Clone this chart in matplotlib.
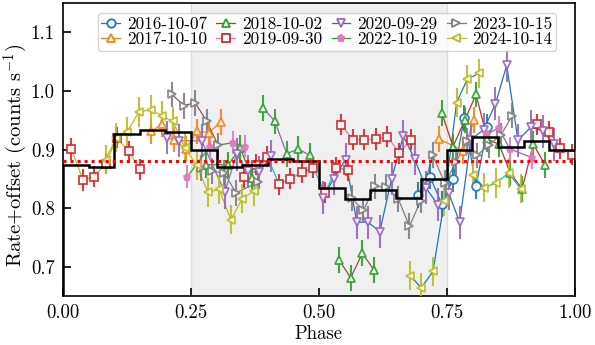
import numpy as np
import matplotlib
matplotlib.use("Agg")
import matplotlib.pyplot as plt
from matplotlib.lines import Line2D

plt.rcParams['font.family'] = 'serif'
plt.rcParams['font.serif'] = ['cmr10', 'DejaVu Serif']
plt.rcParams['mathtext.fontset'] = 'cm'
plt.rcParams['axes.unicode_minus'] = False
plt.rcParams['axes.formatter.use_mathtext'] = True
plt.rcParams['font.size'] = 13.5

# --- data (phase / rate+offset per observation, split into connected runs) ---
labels = ['2016-10-07', '2017-10-10', '2018-10-02', '2019-09-30',
          '2020-09-29', '2022-10-19', '2023-10-15', '2024-10-14']

phase_2016 = [[0.694, 0.717, 0.740, 0.762, 0.784, 0.807, 0.829]]
rate_2016 = [[0.823, 0.854, 0.807, 0.849, 0.954, 0.837, 0.938]]

phase_2017 = [[0.172, 0.194, 0.216, 0.240, 0.262, 0.285, 0.308],
              [0.735, 0.782, 0.803]]
rate_2017 = [[0.931, 0.944, 0.917, 0.901, 0.931, 0.929, 0.947],
             [0.918, 0.898, 0.950]]

phase_2018 = [[0.279, 0.323, 0.346, 0.369],
              [0.391, 0.414, 0.437, 0.460, 0.482],
              [0.540, 0.562, 0.585, 0.607],
              [0.740, 0.762, 0.785, 0.807, 0.829, 0.852, 0.874, 0.897, 0.919, 0.942]]
rate_2018 = [[0.874, 0.874, 0.903, 0.852],
             [0.971, 0.948, 0.893, 0.901, 0.890],
             [0.711, 0.681, 0.723, 0.695],
             [0.963, 0.905, 0.950, 0.994, 0.918, 0.909, 0.860, 0.833, 0.909, 0.874]]

phase_2019 = [[0.016, 0.039, 0.061, 0.083, 0.105, 0.128, 0.151],
              [0.354, 0.377, 0.399, 0.422, 0.444, 0.467, 0.489, 0.512, 0.534, 0.557],
              [0.544, 0.566, 0.588, 0.611, 0.634, 0.657, 0.679],
              [0.927, 0.950, 0.972, 0.995]]
rate_2019 = [[0.901, 0.848, 0.854, 0.876, 0.920, 0.897, 0.866],
             [0.853, 0.874, 0.888, 0.841, 0.850, 0.861, 0.869, 0.826, 0.869, 0.865],
             [0.942, 0.917, 0.917, 0.918, 0.922, 0.894, 0.917],
             [0.943, 0.930, 0.902, 0.891]]

phase_2020 = [[0.203, 0.226, 0.271, 0.316, 0.339, 0.361, 0.383, 0.406],
              [0.507, 0.529, 0.552, 0.574, 0.596, 0.619, 0.642, 0.665, 0.687, 0.709,
               0.732, 0.754, 0.775, 0.797, 0.822, 0.845, 0.867, 0.889, 0.915, 0.938, 0.960]]
rate_2020 = [[0.920, 0.915, 0.915, 0.827, 0.892, 0.863, 0.861, 0.889],
             [0.818, 0.850, 0.883, 0.776, 0.776, 0.760, 0.850, 0.923, 0.884, 0.835,
              0.806, 0.825, 0.776, 0.917, 0.934, 0.978, 1.044, 0.916, 0.939, 0.931, 0.909]]

phase_2022 = [[0.243, 0.287, 0.333, 0.355],
              [0.829, 0.851, 0.873, 0.917]]
rate_2022 = [[0.854, 0.905, 0.912, 0.905],
             [0.926, 0.937, 0.901, 0.886]]

phase_2023 = [[0.213, 0.236, 0.258, 0.281, 0.303],
              [0.270, 0.292, 0.315, 0.338, 0.381],
              [0.564, 0.587, 0.609, 0.632, 0.655, 0.677, 0.699, 0.722, 0.746,
               0.768, 0.789, 0.809, 0.832, 0.855, 0.878]]
rate_2023 = [[0.994, 0.975, 0.980, 0.948, 0.907],
             [0.869, 0.863, 0.860, 0.826, 0.844],
             [0.817, 0.796, 0.837, 0.836, 0.816, 0.769, 0.813, 0.891, 0.843,
              0.878, 0.914, 0.890, 0.908, 0.924, 0.958]]

phase_2024 = [[0.083, 0.104, 0.125, 0.148, 0.171, 0.193, 0.215, 0.238, 0.261,
               0.283, 0.305, 0.328, 0.350, 0.373],
              [0.678, 0.700, 0.723, 0.745, 0.769, 0.790, 0.812],
              [0.801, 0.823, 0.846, 0.871, 0.894]]
rate_2024 = [[0.883, 0.920, 0.930, 0.964, 0.968, 0.958, 0.948, 0.903, 0.873,
              0.827, 0.832, 0.780, 0.816, 0.829],
             [0.685, 0.664, 0.692, 0.812, 0.980, 1.020, 1.030],
             [0.856, 0.835, 0.843, 0.860, 0.833]]

errors = [0.022, 0.022, 0.022, 0.018, 0.028, 0.020, 0.022, 0.025]

phases = [phase_2016, phase_2017, phase_2018, phase_2019,
          phase_2020, phase_2022, phase_2023, phase_2024]
rates = [rate_2016, rate_2017, rate_2018, rate_2019,
         rate_2020, rate_2022, rate_2023, rate_2024]

# binned average (20 bins) and mean level
bin_rate = [0.874, 0.870, 0.926, 0.933, 0.930, 0.899, 0.870, 0.874, 0.884, 0.881,
            0.835, 0.815, 0.831, 0.818, 0.850, 0.900, 0.922, 0.905, 0.915, 0.900]
mean_rate = 0.880

# --- style ---
marker_colors = ['C0', 'C1', 'C2', 'C3', 'C4', 'C6', 'C7', 'C8']
markers = ['o', '^', '^', 's', 'v', 'p', '>', '<']
line_colors = [['C0'], ['C1', 'C1'], ['C2', 'C4', 'C5', 'C3'], ['C8', 'C9', 'C6', 'C6'],
               ['C4', 'C0'], ['C2', 'C4'], ['C5', 'C7', 'C7'], ['C8', 'C0', 'C9']]
legend_line = ['C0', 'C1', 'C3', 'C6', 'C0', 'C2', 'C4', 'C8']

fig = plt.figure(figsize=(5.95, 3.45), dpi=100)
ax = fig.add_axes([0.106, 0.142, 0.86, 0.849])

ax.axvspan(0.25, 0.75, facecolor='#f0f0f0', edgecolor='#dcdcdc', lw=1, zorder=0)

handles = []
for i in range(len(labels)):
    filled = markers[i] == 'p'
    for g, (ph, rt) in enumerate(zip(phases[i], rates[i])):
        ax.plot(ph, rt, color=line_colors[i][g], lw=0.9, zorder=2)
        ax.errorbar(ph, rt, yerr=errors[i], fmt=markers[i], ls='none',
                    ms=4.5 if filled else 6.3, mew=1.3,
                    mfc=marker_colors[i] if filled else 'white',
                    mec=marker_colors[i], ecolor=marker_colors[i],
                    elinewidth=1.5, capsize=0, alpha=0.9, zorder=3)
    handles.append(Line2D([], [], color=legend_line[i], lw=0.9, marker=markers[i],
                          ms=4.5 if filled else 6, mew=1.3,
                          mfc=marker_colors[i] if filled else 'white',
                          mec=marker_colors[i], label=labels[i]))

ax.stairs(bin_rate, np.linspace(0, 1, len(bin_rate) + 1), color='black', lw=1.8, zorder=4)
ax.axhline(mean_rate, color='red', ls=(0, (1, 1.3)), lw=2.2, zorder=4)

ax.set_xlim(0, 1)
ax.set_ylim(0.65, 1.15)
ax.set_xticks([0, 0.25, 0.5, 0.75, 1.0])
ax.set_xticklabels(['0.00', '0.25', '0.50', '0.75', '1.00'])
ax.set_yticks([0.7, 0.8, 0.9, 1.0, 1.1])
ax.set_yticklabels(['0.7', '0.8', '0.9', '1.0', '1.1'])
ax.tick_params(direction='in', length=6, width=1.2, pad=6)
for s in ax.spines.values():
    s.set_linewidth(1.2)
ax.set_xlabel('Phase', labelpad=2)
ax.set_ylabel('Rate+offset (counts s$^{-1}$)', fontsize=14.8)
ax.yaxis.set_label_coords(-0.064, 0.48)

ax.legend(handles=handles, loc='upper center', ncol=4, fontsize=12.3,
          handlelength=1.1, handletextpad=0.4, columnspacing=0.55,
          labelspacing=0.0, borderpad=0.2, borderaxespad=0.5,
          bbox_to_anchor=(0.516, 0.995), fancybox=True, framealpha=0.8)

fig.savefig('out.png', dpi=100)
